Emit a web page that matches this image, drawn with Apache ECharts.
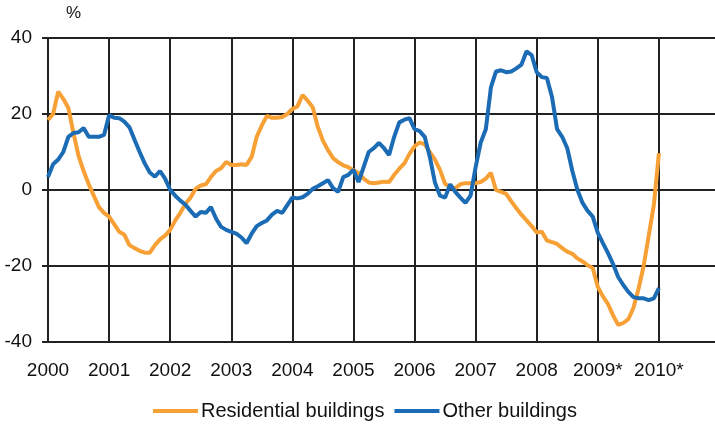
<!DOCTYPE html>
<html>
<head>
<meta charset="utf-8">
<script src="https://cdn.jsdelivr.net/npm/echarts@6/dist/echarts.min.js"></script>
<style>html,body{margin:0;padding:0;background:#fff;}#c{width:715px;height:428px;}</style>
</head>
<body>
<div id="c"></div>
<script>
// Monthly data, January 2000 .. January 2010
const startYear = 2000;
const seriesNames = ['Residential buildings', 'Other buildings'];
const residential = [
  18.4, 20, 25.9, 24, 21.6, 15, 9, 5, 1.5, -1.5, -4.5, -6,
  -7, -9, -11, -11.8, -14.5, -15.3, -16, -16.5, -16.5, -14.5, -13, -12,
  -10.5, -8, -6, -3.6, -2, 0.3, 1.2, 1.5, 3.4, 5, 5.7, 7.4,
  6.6, 6.6, 6.8, 6.6, 8.7, 14, 17, 19.5, 19, 19, 19.2, 20,
  21.3, 22, 25, 23.5, 21.8, 16.6, 13, 10.5, 8.4, 7.3, 6.5, 6,
  5.2, 4.5, 3, 2, 1.8, 2, 2.2, 2.1, 4, 5.6, 7, 9.5,
  11.5, 12.5, 12, 10, 8, 5.3, 1.6, 0.8, 0.5, 1.5, 1.8, 1.8,
  1.8, 2.1, 3, 4.5, 0, -0.5, -1, -3, -4.8, -6.5, -8, -9.5,
  -11.2, -11, -13.3, -13.7, -14.2, -15.3, -16.2, -16.8, -18, -18.8, -19.8, -20.5,
  -25.5, -28, -30, -33, -35.5, -35, -34, -31, -26, -20, -12, -4,
  9.7
];
const other = [
  3.4, 6.8, 8, 10, 14, 15, 15.2, 16.3, 14, 14, 14, 14.5,
  19.7, 19, 18.9, 18, 16.5, 13.2, 10, 7, 4.6, 3.5, 5, 3,
  0, -1.5, -2.8, -3.9, -5.5, -7, -5.8, -6, -4.5, -7.5, -9.7, -10.5,
  -11, -11.5, -12.5, -14, -11.5, -9.5, -8.7, -8, -6.5, -5.5, -6, -4,
  -2, -2.2, -1.9, -1, 0.3, 1, 1.8, 2.6, 0.5, -0.5, 3.4, 4,
  5.3, 2.1, 6, 10, 11, 12.4, 11, 9.2, 14, 17.8, 18.5, 18.9,
  16, 15.5, 14, 8.7, 2, -1.5, -2, 1.5, -0.5, -2, -3.4, -1.5,
  6, 12.5, 16, 27, 31.2, 31.5, 31, 31.2, 32, 33, 36.5, 35.5,
  31, 29.7, 29.5, 24.5, 16, 14, 11, 5, 0, -3.4, -5.5, -7,
  -11.3, -14, -16.6, -19.5, -22.9, -25, -26.8, -28.2, -28.5, -28.5, -29, -28.5,
  -25.8
];
const xTickLabels = ['2000','2001','2002','2003','2004','2005','2006','2007','2008','2009*','2010*'];
const yTicks = [-40, -20, 0, 20, 40];

const toPairs = arr => arr.map((v, i) => [startYear + i / 12, v]);
const lineCol = '#222';
const font = 'Liberation Sans, Arial, sans-serif';

const chart = echarts.init(document.getElementById('c'));
chart.setOption({
  animation: false,
  backgroundColor: '#fff',
  grid: { left: 48, top: 38, bottom: 86, width: 672, containLabel: false, outerBoundsMode: 'none' },
  graphic: [{ type: 'text', left: 66, top: 5, style: { text: '%', font: '17px ' + font, fill: '#111' } }],
  legend: {
    left: 148, top: 396, itemGap: 10, itemWidth: 45, itemHeight: 4, icon: 'rect',
    textStyle: { fontFamily: font, fontSize: 20, color: '#111', padding: [0, 0, 0, -2] },
    data: seriesNames
  },
  xAxis: {
    type: 'value', min: 2000, max: 2011, interval: 1,
    axisLine: { show: false }, axisTick: { show: false },
    splitLine: { show: true, lineStyle: { color: lineCol, width: 2 } },
    axisLabel: {
      margin: 19, fontFamily: font, fontSize: 19, color: '#111',
      formatter: v => { const i = Math.round(v - startYear); return (Math.abs(v - Math.round(v)) < 1e-6 && i >= 0 && i < xTickLabels.length) ? xTickLabels[i] : ''; }
    }
  },
  yAxis: {
    type: 'value', min: yTicks[0], max: yTicks[yTicks.length - 1], interval: 20,
    axisLine: { show: false },
    axisTick: { show: true, inside: false, length: 6, lineStyle: { color: lineCol, width: 2 } },
    splitLine: { show: true, lineStyle: { color: lineCol, width: 2 } },
    axisLabel: { margin: 16, fontFamily: font, fontSize: 19, color: '#111' }
  },
  series: [
    { name: seriesNames[0], type: 'line', data: toPairs(residential), showSymbol: false, symbol: 'none',
      lineStyle: { color: '#F7A035', width: 4 }, itemStyle: { color: '#F7A035' } },
    { name: seriesNames[1], type: 'line', data: toPairs(other), showSymbol: false, symbol: 'none',
      lineStyle: { color: '#1B6BB5', width: 4 }, itemStyle: { color: '#1B6BB5' } }
  ]
});
</script>
</body>
</html>
